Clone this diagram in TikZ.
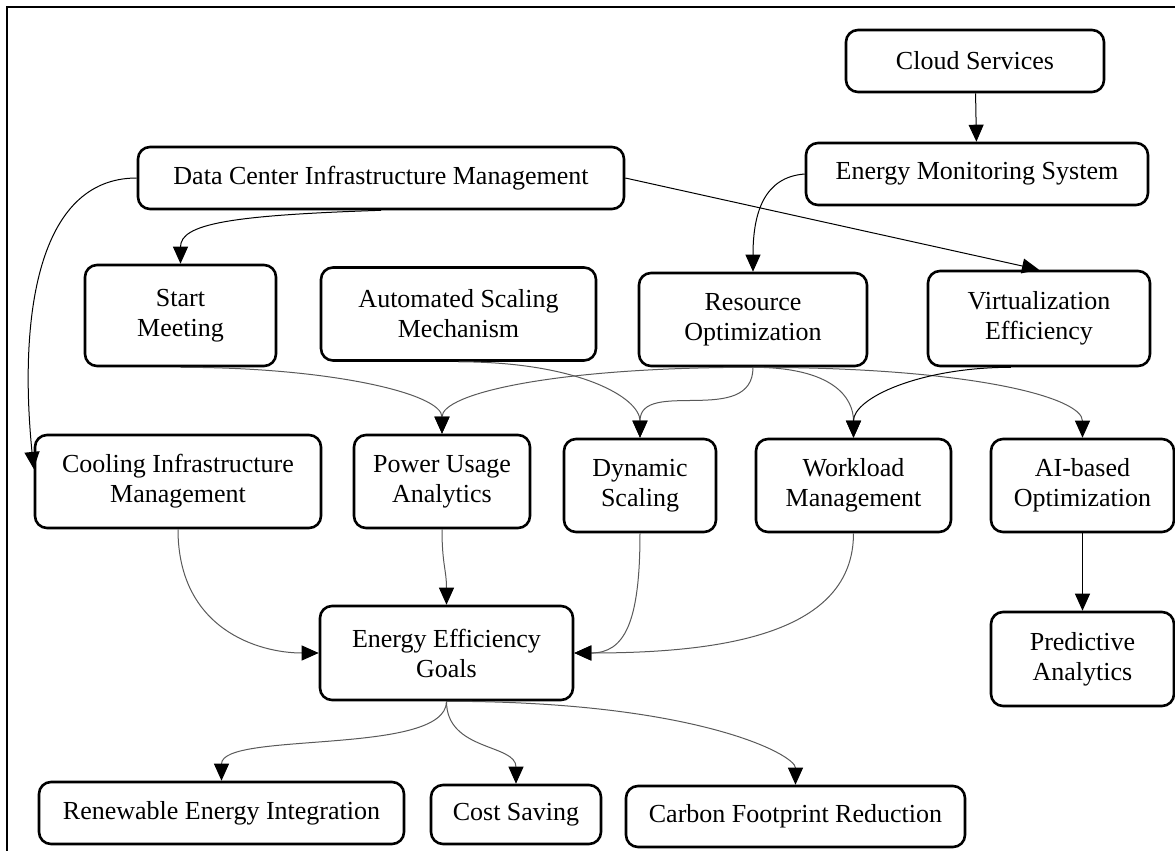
\documentclass[tikz,border=0pt]{standalone}
\usepackage{fontspec}
\setmainfont{Liberation Serif}
\usetikzlibrary{arrows.meta}

\begin{document}
\begin{tikzpicture}[x=0.5pt, y=-0.5pt,
  box/.style={draw, line width=1.3pt, rounded corners=6pt, align=center,
    font=\fontsize{13}{15}\selectfont, inner sep=2pt},
  flat/.style={box, minimum height=31pt},
  tall/.style={box, minimum height=46.5pt},
  edge/.style={-{Triangle[length=8.5pt,width=7.5pt]}, line width=0.5pt},
  gedge/.style={edge, draw=black!65, -{Triangle[length=8.5pt,width=7.5pt,fill=black,color=black]}}]
\useasboundingbox (0,0) rectangle (1175,851);
\draw[line width=1pt] (7,851) -- (7,7) -- (1175,7);

\node[flat, minimum width=129pt] (CS) at (975,61) {Cloud Services};
\node[flat, minimum width=171pt] (EMS) at (977,174) {Energy Monitoring System};
\node[flat, minimum width=243pt] (DCIM) at (381,178) {Data Center Infrastructure Management};
\node[tall, minimum width=95.5pt, minimum height=50.5pt] (SM) at (180.5,315.5) {Start\\Meeting};
\node[tall, minimum width=137.5pt] (ASM) at (458.5,314) {Automated Scaling\\Mechanism};
\node[tall, minimum width=114pt] (RO) at (753,319.5) {Resource\\Optimization};
\node[tall, minimum width=111pt, minimum height=47.5pt] (VE) at (1039,318.5) {Virtualization\\Efficiency};
\node[tall, minimum width=143pt] (CIM) at (178,481.5) {Cooling Infrastructure\\Management};
\node[tall, minimum width=88pt] (PUA) at (442,481.5) {Power Usage\\Analytics};
\node[tall, minimum width=76pt] (DS) at (640,485.5) {Dynamic\\Scaling};
\node[tall, minimum width=97.5pt] (WM) at (853.5,485.5) {Workload\\Management};
\node[tall, minimum width=91.5pt] (AI) at (1082.5,485.5) {AI-based\\Optimization};
\node[tall, minimum width=91.5pt, minimum height=47pt] (PA) at (1082.5,659) {Predictive\\Analytics};
\node[tall, minimum width=126.5pt, minimum height=47pt] (EEG) at (446.5,653) {Energy Efficiency\\Goals};
\node[flat, minimum width=182.5pt] (REI) at (221.5,813) {Renewable Energy Integration};
\node[flat, minimum width=85pt, minimum height=29.5pt] (CSv) at (516,814.5) {Cost Saving};
\node[flat, minimum width=169.5pt, minimum height=30.5pt] (CFR) at (795.5,816.5) {Carbon Footprint Reduction};

\draw[edge] (CS) -- (EMS);
\draw[edge] (EMS.west) .. controls +(-40,3) and +(0,-60) .. (RO.north);
\draw[edge] (DCIM.east) -- (VE.north);
\draw[edge] (DCIM.south) .. controls +(-150,5) and +(0,-40) .. (SM.north);
\draw[edge] (DCIM.west) .. controls +(-100,0) and +(-15,-150) .. (CIM.175);
\draw[gedge] (SM.south) .. controls +(150,0) and +(0,-40) .. (PUA.north);
\draw[gedge] (ASM.south) .. controls +(120,0) and +(0,-40) .. (DS.north);
\draw[gedge] (RO.south) .. controls +(-200,0) and +(0,-40) .. (PUA.north);
\draw[gedge] (RO.south) .. controls +(0,60) and +(0,-60) .. (DS.north);
\draw[gedge] (RO.south) .. controls +(80,0) and +(0,-40) .. (WM.north);
\draw[gedge] (RO.south) .. controls +(220,0) and +(0,-40) .. (AI.north);
\draw[edge] (VE.240) .. controls +(-90,0) and +(0,-40) .. (WM.north);
\draw[gedge] (CIM.south) .. controls +(0,100) and +(-60,0) .. (EEG.west);
\draw[gedge] (PUA.south) .. controls +(0,35) and +(0,-35) .. (EEG.north);
\draw[gedge] (DS.south) .. controls +(0,90) and +(50,0) .. (EEG.east);
\draw[gedge] (WM.south) .. controls +(0,100) and +(150,0) .. (EEG.east);
\draw[edge] (AI) -- (PA);
\draw[gedge] (EEG.south) .. controls +(0,55) and +(0,-50) .. (REI.north);
\draw[gedge] (EEG.south) .. controls +(0,50) and +(0,-40) .. (CSv.north);
\draw[gedge] (EEG.south) .. controls +(250,0) and +(0,-30) .. (CFR.north);
\end{tikzpicture}
\end{document}
